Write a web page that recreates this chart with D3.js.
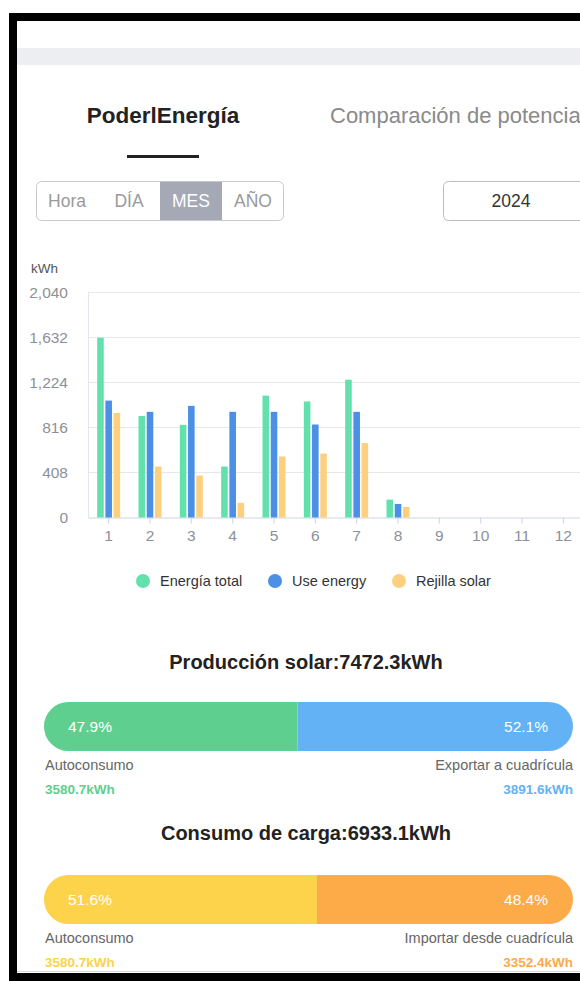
<!DOCTYPE html>
<html>
<head>
<meta charset="utf-8">
<script src="https://cdn.jsdelivr.net/npm/d3@7"></script>
<style>
  html, body { margin: 0; padding: 0; background: #fff; }
  svg { display: block; font-family: "Liberation Sans", Arial, sans-serif; }
</style>
</head>
<body>
<div id="chart"></div>
<script>
// Chart values
const months = ["1", "2", "3", "4", "5", "6", "7", "8", "9", "10", "11", "12"];
const seriesNames = ["Energía total", "Use energy", "Rejilla solar"];
const energiaTotal = [1630, 920, 840, 462, 1105, 1052, 1250, 162, 0, 0, 0, 0];
const useEnergy = [1060, 958, 1012, 958, 958, 843, 958, 123, 0, 0, 0, 0];
const rejillaSolar = [948, 462, 380, 133, 553, 580, 675, 95, 0, 0, 0, 0];
const yTicks = [0, 408, 816, 1224, 1632, 2040];
const modeButtons = ["Hora", "DÍA", "MES", "AÑO"];

// Summary values
const solarTotal = "7472.3kWh";
const solarShares = [47.9, 52.1];
const solarLabels = ["Autoconsumo", "Exportar a cuadrícula"];
const solarKwh = ["3580.7kWh", "3891.6kWh"];
const loadTotal = "6933.1kWh";
const loadShares = [51.6, 48.4];
const loadLabels = ["Autoconsumo", "Importar desde cuadrícula"];
const loadKwh = ["3580.7kWh", "3352.4kWh"];

const colors = ["#62e1ad", "#4b8fe6", "#fdd07f"];
const W = 580, H = 981;

const svg = d3.select("#chart").append("svg")
    .attr("width", W)
    .attr("height", H);

// Header band
svg.append("rect").attr("x", 17).attr("y", 48).attr("width", W - 17).attr("height", 17).attr("fill", "#eceef1");

// Tabs
svg.append("text")
    .attr("x", 163).attr("y", 123)
    .attr("text-anchor", "middle")
    .style("font-size", "22.5px").style("font-weight", "bold")
    .attr("fill", "#222")
    .text("PoderlEnergía");
svg.append("text")
    .attr("x", 330).attr("y", 123)
    .style("font-size", "22px")
    .attr("fill", "#8a8a8a")
    .text("Comparación de potencia");
svg.append("rect").attr("x", 127).attr("y", 155).attr("width", 72).attr("height", 3).attr("fill", "#222");

// Segmented buttons
const btn = d3.scaleBand().domain(modeButtons).range([36, 284]);
svg.append("rect")
    .attr("x", btn("MES")).attr("y", 181)
    .attr("width", btn.bandwidth()).attr("height", 40)
    .attr("fill", "#a4a9b5");
svg.append("rect")
    .attr("x", 36.5).attr("y", 181.5).attr("width", 247).attr("height", 39)
    .attr("rx", 5).attr("fill", "none").attr("stroke", "#c9c9c9");
svg.selectAll(".btn-label")
    .data(modeButtons)
    .enter()
    .append("text")
        .attr("class", "btn-label")
        .attr("x", d => btn(d) + btn.bandwidth() / 2)
        .attr("y", 207)
        .attr("text-anchor", "middle")
        .style("font-size", "17.5px")
        .attr("fill", d => d === "MES" ? "#fff" : "#9a9a9a")
        .text(d => d);

// Year box
svg.append("rect")
    .attr("x", 443.5).attr("y", 181.5).attr("width", 150).attr("height", 39)
    .attr("rx", 5).attr("fill", "none").attr("stroke", "#bdbdbd");
svg.append("text")
    .attr("x", 511).attr("y", 207)
    .attr("text-anchor", "middle")
    .style("font-size", "17.5px")
    .attr("fill", "#333")
    .text("2024");

// Bar chart
const x0 = d3.scaleBand().domain(months).range([88, 584]);
const x1 = d3.scaleBand().domain(seriesNames)
    .range([x0.bandwidth() / 2 - 11.5, x0.bandwidth() / 2 + 11.5])
    .paddingInner(0.2);
const y = d3.scaleLinear().domain([0, 2040]).range([517.5, 292.5]);

svg.append("text")
    .attr("x", 31).attr("y", 273)
    .style("font-size", "13.5px")
    .attr("fill", "#555")
    .text("kWh");

// Grid lines
svg.append("g")
    .selectAll("line")
    .data(yTicks.filter(d => d > 0))
    .enter()
    .append("line")
        .attr("x1", 88).attr("x2", 584)
        .attr("y1", d => y(d)).attr("y2", d => y(d))
        .attr("stroke", "#e6e8ee");
svg.append("line")
    .attr("x1", 88.5).attr("x2", 88.5)
    .attr("y1", y(2040)).attr("y2", y(0))
    .attr("stroke", "#e3e6ee");

// Y axis labels
svg.append("g")
    .selectAll("text")
    .data(yTicks)
    .enter()
    .append("text")
        .attr("x", 68)
        .attr("y", d => y(d) + 5.5)
        .attr("text-anchor", "end")
        .style("font-size", "15.5px")
        .attr("fill", "#8c9099")
        .text(d => d3.format(",")(d));

// X axis
const xAxis = svg.append("g")
    .attr("transform", `translate(0,${y(0)})`)
    .call(d3.axisBottom(x0).tickSize(6).tickPadding(6).tickSizeOuter(0));
xAxis.select(".domain").attr("stroke", "#cdd4e4");
xAxis.selectAll(".tick line").attr("stroke", "#cdd4e4");
xAxis.selectAll("text")
    .style("font-size", "15.5px")
    .style("font-family", "'Liberation Sans', Arial, sans-serif")
    .attr("fill", "#8c9099");

// Bars
const seriesData = [energiaTotal, useEnergy, rejillaSolar];
seriesData.forEach((vals, i) => {
    svg.append("g")
        .selectAll("rect")
        .data(vals.map((v, j) => ({ month: months[j], value: v })).filter(d => d.value > 0))
        .enter()
        .append("rect")
            .attr("x", d => x0(d.month) + x1(seriesNames[i]))
            .attr("y", d => y(d.value))
            .attr("width", x1.bandwidth())
            .attr("height", d => y(0) - y(d.value))
            .attr("fill", colors[i]);
});

// Legend
const legendX = [143, 275, 399];
const legend = svg.append("g")
    .selectAll("g")
    .data(seriesNames)
    .enter()
    .append("g")
        .attr("transform", (d, i) => `translate(${legendX[i]},581)`);
legend.append("circle").attr("r", 7).attr("fill", (d, i) => colors[i]);
legend.append("text")
    .attr("x", 17).attr("y", 5)
    .style("font-size", "14.5px")
    .attr("fill", "#333")
    .text(d => d);

// Split bars
function splitBar(opts) {
    const { title, titleY, barY, shares, labels, kwh, cols, clipId } = opts;
    const sx = d3.scaleLinear().domain([0, 100]).range([44, 573]);
    svg.append("text")
        .attr("x", 306).attr("y", titleY)
        .attr("text-anchor", "middle")
        .style("font-size", "20px").style("font-weight", "bold")
        .attr("fill", "#222")
        .text(title);

    svg.append("clipPath").attr("id", clipId)
        .append("rect")
            .attr("x", sx(0)).attr("y", barY)
            .attr("width", sx(100) - sx(0)).attr("height", 49)
            .attr("rx", 24.5);
    const g = svg.append("g").attr("clip-path", `url(#${clipId})`);
    g.append("rect")
        .attr("x", sx(0)).attr("y", barY)
        .attr("width", sx(shares[0]) - sx(0)).attr("height", 49)
        .attr("fill", cols[0]);
    g.append("rect")
        .attr("x", sx(shares[0])).attr("y", barY)
        .attr("width", sx(100) - sx(shares[0])).attr("height", 49)
        .attr("fill", cols[1]);

    svg.append("text")
        .attr("x", 68).attr("y", barY + 30)
        .style("font-size", "15.5px")
        .attr("fill", "#fff")
        .text(shares[0].toFixed(1) + "%");
    svg.append("text")
        .attr("x", 548).attr("y", barY + 30)
        .attr("text-anchor", "end")
        .style("font-size", "15.5px")
        .attr("fill", "#fff")
        .text(shares[1].toFixed(1) + "%");

    svg.append("text")
        .attr("x", 45).attr("y", barY + 68)
        .style("font-size", "14.5px")
        .attr("fill", "#666")
        .text(labels[0]);
    svg.append("text")
        .attr("x", 573).attr("y", barY + 68)
        .attr("text-anchor", "end")
        .style("font-size", "14.5px")
        .attr("fill", "#666")
        .text(labels[1]);
    svg.append("text")
        .attr("x", 45).attr("y", barY + 92)
        .style("font-size", "13.5px").style("font-weight", "bold")
        .attr("fill", cols[0])
        .text(kwh[0]);
    svg.append("text")
        .attr("x", 573).attr("y", barY + 92)
        .attr("text-anchor", "end")
        .style("font-size", "13.5px").style("font-weight", "bold")
        .attr("fill", cols[1])
        .text(kwh[1]);
}

splitBar({
    title: "Producción solar:" + solarTotal, titleY: 669, barY: 702,
    shares: solarShares, labels: solarLabels, kwh: solarKwh,
    cols: ["#5ecf8e", "#63b2f5"], clipId: "clip-solar"
});
splitBar({
    title: "Consumo de carga:" + loadTotal, titleY: 840, barY: 875,
    shares: loadShares, labels: loadLabels, kwh: loadKwh,
    cols: ["#fdd34c", "#fdab48"], clipId: "clip-load"
});

// Bottom separator and black frame
svg.append("line").attr("x1", 17).attr("x2", W).attr("y1", 971.5).attr("y2", 971.5).attr("stroke", "#d9d9d9");
svg.append("rect").attr("x", 9).attr("y", 13).attr("width", W - 9).attr("height", 8).attr("fill", "#000");
svg.append("rect").attr("x", 9).attr("y", 13).attr("width", 8).attr("height", H - 13).attr("fill", "#000");
svg.append("rect").attr("x", 9).attr("y", 973).attr("width", W - 9).attr("height", 8).attr("fill", "#000");
</script>
</body>
</html>
